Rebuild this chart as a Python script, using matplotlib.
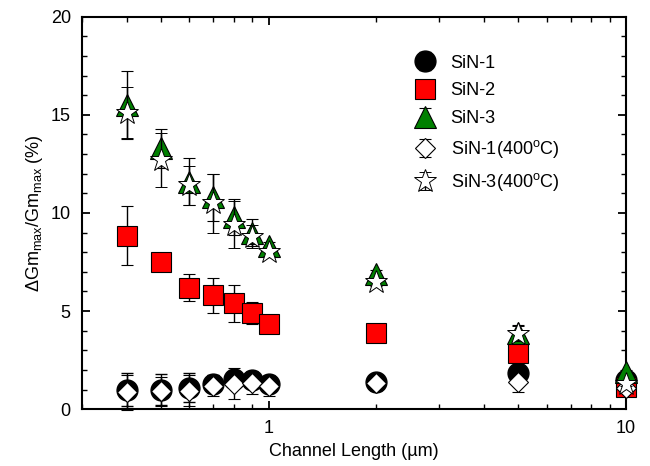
import numpy as np
import matplotlib.pyplot as plt
from matplotlib.ticker import LogLocator, NullFormatter, FixedLocator, FixedFormatter, MultipleLocator

plt.rcParams['font.family'] = ['Liberation Sans', 'DejaVu Sans']
plt.rcParams['mathtext.fontset'] = 'custom'
plt.rcParams['mathtext.rm'] = 'Liberation Sans'
plt.rcParams['mathtext.it'] = 'Liberation Sans:italic'
plt.rcParams['font.size'] = 13

#-------------- data --------------------------------------------------------------

L = [0.4, 0.5, 0.6, 0.7, 0.8, 0.9, 1.0, 2, 5, 10]

sin1     = [1.0, 1.0, 1.1, 1.3, 1.55, 1.5, 1.3, 1.4, 1.85, 1.5]
sin1_err = [0.85, 0.8, 0.75, 0.45, 0.4, 0.2, 0.2, 0.1, 0.2, 0.1]

sin2     = [8.85, 7.5, 6.2, 5.8, 5.4, 4.9, 4.35, 3.9, 2.85, 1.15]
sin2_err = [1.5, 0.4, 0.7, 0.9, 0.95, 0.55, 0.2, 0.1, 0.2, 0.1]

sin3     = [15.5, 13.3, 11.6, 10.8, 9.8, 9.0, 8.3, 6.9, 3.9, 1.9]
sin3_err = [1.75, 1.0, 1.2, 1.2, 0.9, 0.7, 0.2, 0.2, 0.4, 0.1]

sin1_400     = [0.85, 0.9, 0.95, 1.2, 1.3, 1.35, 1.2, 1.35, 1.4, 1.1]
sin1_400_err = [0.9, 0.75, 0.8, 0.55, 0.8, 0.6, 0.55, 0.4, 0.55, 0.1]

sin3_400     = [15.1, 12.7, 11.4, 10.5, 9.4, 8.8, 8.0, 6.5, 3.85, 1.3]
sin3_400_err = [1.3, 1.4, 1.0, 1.5, 1.2, 0.6, 0.2, 0.2, 0.4, 0.1]

#-------------- plot --------------------------------------------------------------

fig = plt.figure(figsize=(6.5, 4.66), dpi=100)
ax = fig.add_axes([0.126, 0.122, 0.837, 0.842])

eb = dict(ecolor='k', elinewidth=1, capsize=4.5, capthick=1, linestyle='none', clip_on=False)

ax.errorbar(L, sin1, yerr=sin1_err, fmt='o', ms=15, mfc='k', mec='k',
            label='SiN-1', zorder=2, **eb)
ax.errorbar(L, sin2, yerr=sin2_err, fmt='s', ms=14, mfc='red', mec='k', mew=0.8,
            label='SiN-2', zorder=3, **eb)
ax.errorbar(L, sin3, yerr=sin3_err, fmt='^', ms=16, mfc='green', mec='k', mew=0.8,
            label='SiN-3', zorder=4, **eb)
ax.errorbar(L, sin1_400, yerr=sin1_400_err, fmt='D', ms=10, mfc='white', mec='k', mew=0.8,
            label='SiN-1(400$^{\\mathrm{o}}$C)', zorder=5, **eb)
ax.errorbar(L, sin3_400, yerr=sin3_400_err, fmt='*', ms=17, mfc='white', mec='k', mew=0.7,
            label='SiN-3(400$^{\\mathrm{o}}$C)', zorder=6, **eb)

ax.set_xscale('log')
ax.set_xlim(0.3, 10)
ax.set_ylim(0, 20)

ax.xaxis.set_major_locator(FixedLocator([1, 10]))
ax.xaxis.set_major_formatter(FixedFormatter(['1', '10']))
ax.xaxis.set_minor_locator(LogLocator(base=10, subs=np.arange(2, 10)))
ax.xaxis.set_minor_formatter(NullFormatter())
ax.yaxis.set_major_locator(MultipleLocator(5))
ax.yaxis.set_minor_locator(MultipleLocator(1))

ax.tick_params(which='both', direction='in', top=True, right=True, labelsize=13)
ax.tick_params(which='major', length=6, width=1.3, pad=8)
ax.tick_params(which='minor', length=3.5, width=1)
for s in ax.spines.values():
    s.set_linewidth(1.5)

ax.set_xlabel('Channel Length (\u00b5m)', fontsize=13)
ax.set_ylabel('$\\Delta$Gm$_{\\mathrm{max}}$/Gm$_{\\mathrm{max}}$ (%)', fontsize=13)

leg = ax.legend(loc='upper left', bbox_to_anchor=(0.575, 0.945), frameon=False,
                fontsize=13, handletextpad=0.6, labelspacing=0.6, numpoints=1,
                handlelength=1.6)

fig.savefig('out.png', dpi=100)
